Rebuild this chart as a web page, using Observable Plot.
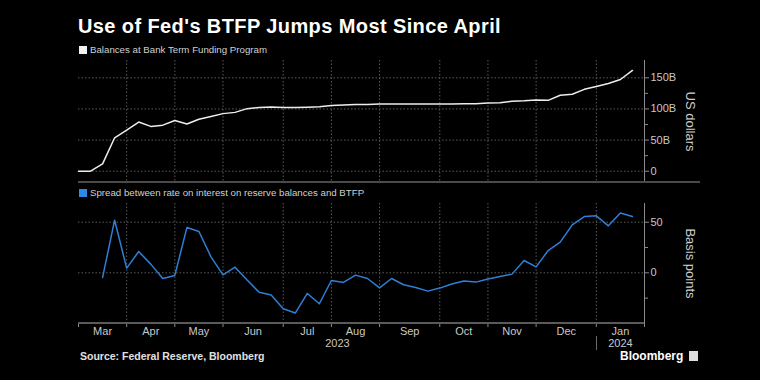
<!DOCTYPE html>
<html><head><meta charset="utf-8">
<script src="https://cdn.jsdelivr.net/npm/d3@7"></script>
<script src="https://cdn.jsdelivr.net/npm/@observablehq/plot@0.6"></script>
<style>
html,body{margin:0;padding:0;background:#000;}
#root{position:relative;width:760px;height:380px;background:#000;overflow:hidden;font-family:"Liberation Sans",Arial,sans-serif;}
.abs{position:absolute;white-space:nowrap;}
#title{left:78px;top:16px;font-size:20px;line-height:20px;letter-spacing:0.4px;font-weight:bold;color:#fff;}
.leg{font-size:9.7px;line-height:10px;color:#d0d0d0;}
.sw{position:absolute;width:8px;height:8px;}
#source{left:80px;top:351px;font-size:10.5px;line-height:11px;font-weight:bold;color:#e0e0e0;}
#brand{left:620px;top:350px;font-size:12px;line-height:12px;font-weight:bold;color:#fff;}
</style></head>
<body><div id="root">
<div id="title" class="abs">Use of Fed's BTFP Jumps Most Since April</div>
<div class="sw" style="left:79px;top:46px;background:#f2f2f2"></div>
<div class="abs leg" style="left:90px;top:45px">Balances at Bank Term Funding Program</div>
<div id="p1" class="abs" style="left:0;top:55px"></div>
<div class="abs" style="left:78px;top:181px;width:622px;height:2px;background:#4a4a4a"></div>
<div class="sw" style="left:79px;top:189px;background:#2d8ae6"></div>
<div class="abs leg" style="left:90px;top:188px">Spread between rate on interest on reserve balances and BTFP</div>
<div id="p2" class="abs" style="left:0;top:198px"></div>
<div id="source" class="abs">Source: Federal Reserve, Bloomberg</div>
<div id="brand" class="abs">Bloomberg <span style="display:inline-block;width:9px;height:10px;background:#ddd;vertical-align:-1px;margin-left:2px"></span></div>
</div>
<script>
// Weekly observations (Wednesdays), Mar 1 2023 – Jan 17 2024
const weeks = ["2023-03-01","2023-03-08","2023-03-15","2023-03-22","2023-03-29","2023-04-05","2023-04-12","2023-04-19","2023-04-26","2023-05-03","2023-05-10","2023-05-17","2023-05-24","2023-05-31","2023-06-07","2023-06-14","2023-06-21","2023-06-28","2023-07-05","2023-07-12","2023-07-19","2023-07-26","2023-08-02","2023-08-09","2023-08-16","2023-08-23","2023-08-30","2023-09-06","2023-09-13","2023-09-20","2023-09-27","2023-10-04","2023-10-11","2023-10-18","2023-10-25","2023-11-01","2023-11-08","2023-11-15","2023-11-22","2023-11-29","2023-12-06","2023-12-13","2023-12-20","2023-12-27","2024-01-03","2024-01-10","2024-01-17"];
// Balances at Bank Term Funding Program, billions of US dollars
const balances = [0,0,11.9,53.7,66,79,72,74,81.5,75.8,83.5,88,92.5,94.5,100.5,102.5,103,102.5,102.3,102.8,103.5,105.5,106.5,107,107.3,108,108,108,108,108,108,108,108.3,108.5,109.5,109.8,112.5,113,114.5,113.8,122,123.7,131.5,136,141,147.3,161.8];
// Spread between rate on interest on reserve balances and BTFP, basis points
const spreads = [null,null,-4.6,52,4.6,21,8.6,-5.6,-2.6,44.7,40.8,15.8,-2,5.6,-7.2,-19.3,-22,-35.5,-39.8,-20.4,-30.6,-7.6,-9.5,-2.3,-5.6,-14.8,-5.6,-11.8,-14.5,-18.1,-15.1,-11,-8.2,-9.2,-6.2,-3.6,-1.3,12.2,5.9,22,30.3,47.4,55.6,56.3,46.4,59.2,55.6];
// Month boundaries on the weekly axis (week index of each month's last observation)
const monthBounds = [0,4,8,12,17,21,25,30,34,38,43,47];
const monthLabels = ["Mar","Apr","May","Jun","Jul","Aug","Sep","Oct","Nov","Dec","Jan"];
const yearLabels = ["2023","2024"];
const yearBounds = [0,43,47];
const balTicks = [0,50,100,150];
const balMinor = [25,75,125];
const spreadTicks = [0,50];
const spreadMinor = [-25,25];

const data = weeks.map((d,i)=>({i, date:d, balance:balances[i], spread:spreads[i]}));
const font = '"Liberation Sans",Arial,sans-serif';
const grid = {stroke:"#5a5a5a", strokeDasharray:"1.5,2", strokeWidth:1};
const inner = monthBounds.slice(1,-1);
const xDomain = [monthBounds[0], monthBounds[monthBounds.length-1]];

const p1 = Plot.plot({
  width:760, height:130, marginLeft:78, marginRight:116, marginTop:5, marginBottom:3,
  style:{background:"transparent", color:"#c8c8c8", fontFamily:font, fontSize:"11px", overflow:"visible"},
  x:{domain:xDomain, axis:null},
  y:{domain:[-18.1,177.8], axis:null},
  marks:[
    Plot.ruleY(balTicks, grid),
    Plot.ruleX(inner, grid),
    Plot.ruleX([xDomain[1]], {stroke:"#8a8a8a"}),
    Plot.axisY({anchor:"right", ticks:balTicks, tickFormat:d=> d===0 ? "0" : d+"B", tickSize:4, tickPadding:2, label:null, stroke:"#8a8a8a", fill:"#c8c8c8", fontSize:11}),
    Plot.axisY({anchor:"right", ticks:balMinor, tickFormat:()=>"", tickSize:3, label:null, stroke:"#8a8a8a"}),
    Plot.line(data, {x:"i", y:"balance", stroke:"#ededed", strokeWidth:1.5}),
    Plot.text(["US dollars"], {frameAnchor:"right", dx:46, rotate:90, textAnchor:"middle", lineAnchor:"middle", fontSize:13, fill:"#cfcfcf"})
  ]
});
document.getElementById("p1").appendChild(p1);

const p2 = Plot.plot({
  width:760, height:160, marginLeft:78, marginRight:116, marginTop:5, marginBottom:35,
  style:{background:"transparent", color:"#c8c8c8", fontFamily:font, fontSize:"11px", overflow:"visible"},
  x:{domain:xDomain, axis:null},
  y:{domain:[-50.1,68.5], axis:null},
  marks:[
    Plot.ruleY(spreadTicks, grid),
    Plot.ruleX(inner, grid),
    Plot.ruleX([xDomain[1]], {stroke:"#8a8a8a"}),
    Plot.axisY({anchor:"right", ticks:spreadTicks, tickFormat:d=>String(d), tickSize:4, tickPadding:2, label:null, stroke:"#8a8a8a", fill:"#c8c8c8", fontSize:11}),
    Plot.axisY({anchor:"right", ticks:spreadMinor, tickFormat:()=>"", tickSize:3, label:null, stroke:"#8a8a8a"}),
    Plot.axisX({anchor:"bottom", ticks:monthBounds, tickFormat:()=>"", tickSize:4, label:null, stroke:"#8a8a8a"}),
    Plot.line(data, {x:"i", y:"spread", stroke:"#2f7fd6", strokeWidth:1.5}),
    Plot.text(monthLabels, {x:(d,i)=>(monthBounds[i]+monthBounds[i+1])/2, text:d=>d, frameAnchor:"bottom", dy:8, lineAnchor:"middle", fill:"#c8c8c8", fontSize:11}),
    Plot.text(yearLabels, {x:(d,i)=>(yearBounds[i]+yearBounds[i+1])/2, text:d=>d, frameAnchor:"bottom", dy:20, lineAnchor:"middle", fill:"#c8c8c8", fontSize:11}),
    Plot.text(["Basis points"], {frameAnchor:"right", dx:46, rotate:90, textAnchor:"middle", lineAnchor:"middle", fontSize:13, fill:"#cfcfcf"})
  ]
});
document.getElementById("p2").appendChild(p2);

// bottom axis baseline and year separator
const sx = p2.scale("x");
const root = document.getElementById("root");
const x0 = sx.apply(xDomain[0]), x1 = sx.apply(xDomain[1]), xb = sx.apply(yearBounds[1]);
const base = document.createElement("div");
base.className = "abs";
base.style.cssText = `left:${x0}px;top:322px;width:${x1-x0}px;height:2px;background:#5a5a5a`;
root.appendChild(base);
const sep = document.createElement("div");
sep.className = "abs";
sep.style.cssText = `left:${xb}px;top:336px;width:1px;height:14px;background:#6a6a6a`;
root.appendChild(sep);
</script>
</body></html>
